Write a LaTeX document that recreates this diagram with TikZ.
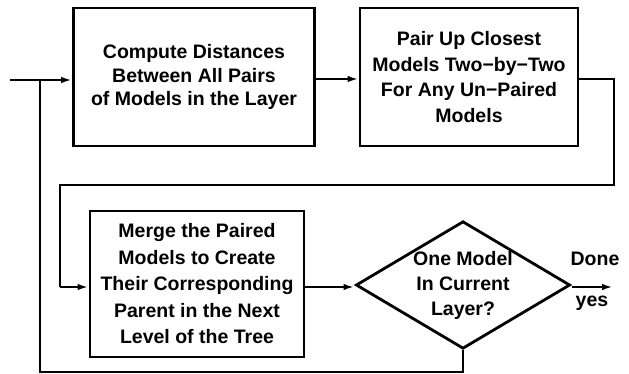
\documentclass[tikz,border=0pt]{standalone}
\usepackage{fontspec}
\setmainfont{Liberation Sans}
\usetikzlibrary{shapes.geometric,arrows.meta}
\begin{document}
\begin{tikzpicture}[x=1pt,y=-1pt,
  line width=2.8pt,
  boxst/.style={draw,line width=2.8pt,align=center,inner sep=0pt,
    font=\fontsize{19.5}{#1}\selectfont\bfseries},
  boxst/.default=23.5,
  lbl/.style={font=\fontsize{19.5}{23.5}\selectfont\bfseries,inner sep=0pt},
  arr/.style={-{Latex[length=11pt,width=6.5pt]},line width=2.2pt}]
\useasboundingbox (0,0) rectangle (629,374);
\node[boxst=23.5,minimum width=241pt,minimum height=138pt] (b1) at (194,77)
  {Compute Distances\\Between All Pairs\\of Models in the Layer};
\node[boxst=25.5,minimum width=218pt,minimum height=138pt] (b2) at (469,77)
  {Pair Up Closest\\Models Two−by−Two\\For Any Un−Paired\\Models};
\node[boxst=26.5,minimum width=214pt,minimum height=146pt] (b3) at (197,284)
  {Merge the Paired\\Models to Create\\Their Corresponding\\Parent in the Next\\Level of the Tree};
\node[boxst=25,diamond,aspect=1.68,minimum width=212pt,minimum height=126pt] (d) at (463,285)
  {One Model\\In Current\\Layer?};
\coordinate (in) at (10,80);
\coordinate (j) at (40,80);
\coordinate (dn) at (613,287);
\node[lbl] (done) at (595,259) {Done};
\node[lbl] (yes) at (592,303) {yes};
\draw[arr] (in) -- (b1.west |- in);
\draw[arr] (b1.east |- 0,79) -- (b2.west |- 0,79);
\draw (b2.east |- 0,79) -- (614,79) -- (614,185) -- (60,185) -- (60,287);
\draw[arr] (60,287) -- (b3.west |- 0,287);
\draw[arr] (b3.east |- 0,287) -- (d.west |- 0,287);
\draw[arr] (d.east |- 0,287) -- (dn);
\draw (d.south) -- (d.south |- 0,372) -- (40,372) -- (j);
\end{tikzpicture}
\end{document}
